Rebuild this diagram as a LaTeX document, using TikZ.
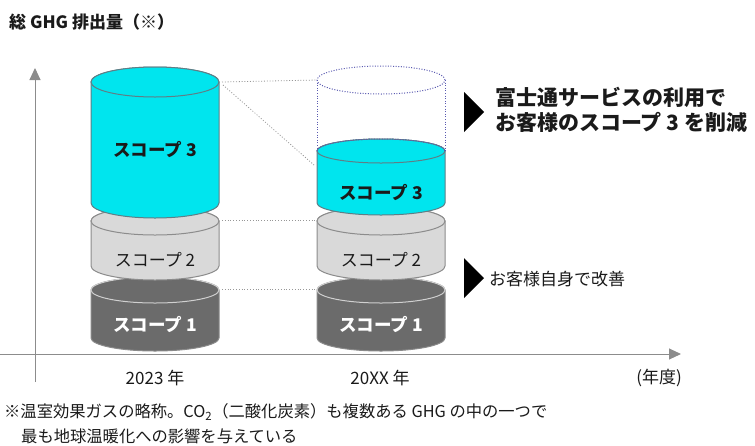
\documentclass[tikz,border=0pt]{standalone}
\usepackage{fontspec}
\setmainfont{Noto Sans CJK JP}
\usetikzlibrary{arrows.meta}
\definecolor{cyanf}{HTML}{00E5EE}
\definecolor{cyanl}{HTML}{5F7E86}
\definecolor{lgf}{HTML}{D9D9D9}
\definecolor{lgl}{HTML}{8C8C8C}
\definecolor{dgf}{HTML}{6B6B6B}
\definecolor{dgl}{HTML}{8A8A8A}
\definecolor{dgt}{HTML}{D0D0D0}
\definecolor{ghostc}{HTML}{5A5AB0}
\definecolor{axisc}{HTML}{8C8C8C}
\definecolor{txt}{HTML}{1A1A1A}
\newcommand\drawcyl[7]{%
  \filldraw[fill=#5,draw=#6,line width=1pt] ({#1-64},#2) -- ({#1-64},#3)
    arc[start angle=180,end angle=360,x radius=64pt,y radius=#4pt] -- ({#1+64},#2)
    arc[start angle=0,end angle=180,x radius=64pt,y radius=#4pt] -- cycle;
  \draw[fill=#5,draw=#7,line width=1pt] (#1,#2) ellipse[x radius=64pt,y radius=#4pt];
}
\tikzset{
  lbl/.style={text=txt,font=\fontsize{17pt}{20pt}\selectfont,inner sep=0pt},
  lblb/.style={lbl,font=\fontsize{17.5pt}{20pt}\selectfont\bfseries},
  lblw/.style={lblb,text=white},
  conn/.style={draw=axisc!90,line width=0.8pt,dash pattern=on 1pt off 1.8pt},
  ghost/.style={draw=ghostc,line width=1pt,dash pattern=on 1pt off 1.6pt},
  axisline/.style={draw=axisc,line width=1pt},
  tri/.style={fill=black},
}
\begin{document}
\begin{tikzpicture}[x=1pt,y=-1pt]
\useasboundingbox (0,0) rectangle (755,445);
% title
\node[anchor=west,text=txt,inner sep=0pt,font=\fontsize{17pt}{20pt}\selectfont\bfseries] (title) at (9,22) {総 GHG 排出量（※）};
% axes
\coordinate (vb) at (35,382);
\coordinate (vt) at (35,68);
\coordinate (hl) at (0,354);
\coordinate (hr) at (681,354);
\draw[axisline,-{Triangle[width=11pt,length=12pt]}] (vb) -- (vt);
\draw[axisline,-{Triangle[width=11pt,length=12pt]}] (hl) -- (hr);
% left cylinders
\drawcyl{155}{290}{338}{13}{dgf}{dgl}{dgt}
\drawcyl{155}{221}{266}{14}{lgf}{lgl}{lgl}
\drawcyl{155}{82}{203}{15}{cyanf}{cyanl}{cyanl}
% right cylinders
\drawcyl{381}{290}{338}{13}{dgf}{dgl}{dgt}
\drawcyl{381}{221}{266}{14}{lgf}{lgl}{lgl}
\drawcyl{381}{151}{203}{12}{cyanf}{cyanl}{cyanl}
% ghost cylinder
\coordinate (gc) at (381,80);
\coordinate (gtl) at (317,80);
\coordinate (gtr) at (445,80);
\coordinate (gbl) at (317,151);
\coordinate (gbr) at (445,151);
\draw[ghost] (gc) ellipse[x radius=64pt,y radius=14pt];
\draw[ghost] (gtl) -- (gbl);
\draw[ghost] (gtr) -- (gbr);
\draw[ghost] (gbl) arc[start angle=180,end angle=0,x radius=64pt,y radius=12pt];
% connectors
\coordinate (l3) at (222,82);
\coordinate (l3d) at (223,85);
\coordinate (r3) at (314,165);
\coordinate (l2) at (222,220);
\coordinate (r2) at (315,220);
\coordinate (l1) at (222,289);
\coordinate (r1) at (315,289);
\draw[conn] (l3) -- (gtl);
\draw[conn] (l3d) -- (r3);
\draw[conn] (l2) -- (r2);
\draw[conn] (l1) -- (r1);
% cylinder labels
\node[lblb] (a3) at (155,150) {スコープ 3};
\node[lbl]  (a2) at (155,260) {スコープ 2};
\node[lblw] (a1) at (155,325) {スコープ 1};
\node[lblb] (b3) at (381,193) {スコープ 3};
\node[lbl]  (b2) at (381,260) {スコープ 2};
\node[lblw] (b1) at (381,325) {スコープ 1};
% axis labels
\node[lbl] (y1) at (155,378) {2023 年};
\node[lbl] (y2) at (380,378) {20XX 年};
\node[lbl] (y3) at (659,378) {(年度)};
% right annotations
\fill[tri] (464,92) -- (484,112) -- (464,132) -- cycle;
\node[anchor=west,align=left,text=txt,inner sep=0pt,font=\fontsize{21pt}{25pt}\selectfont\bfseries] (t1) at (495,110) {富士通サービスの利用で\\お客様のスコープ 3 を削減};
\fill[tri] (464,258) -- (484,278) -- (464,298) -- cycle;
\node[anchor=west,text=txt,inner sep=0pt,font=\fontsize{17pt}{20pt}\selectfont] (t2) at (489,279) {お客様自身で改善};
% footnote
\node[anchor=west,text=txt,inner sep=0pt,font=\fontsize{16.3pt}{19pt}\selectfont] (f1) at (4,412) {※温室効果ガスの略称。CO\textsubscript{2}（二酸化炭素）も複数ある GHG の中の一つで};
\node[anchor=west,text=txt,inner sep=0pt,font=\fontsize{16.3pt}{19pt}\selectfont] (f2) at (21,436) {最も地球温暖化への影響を与えている};
\end{tikzpicture}
\end{document}
